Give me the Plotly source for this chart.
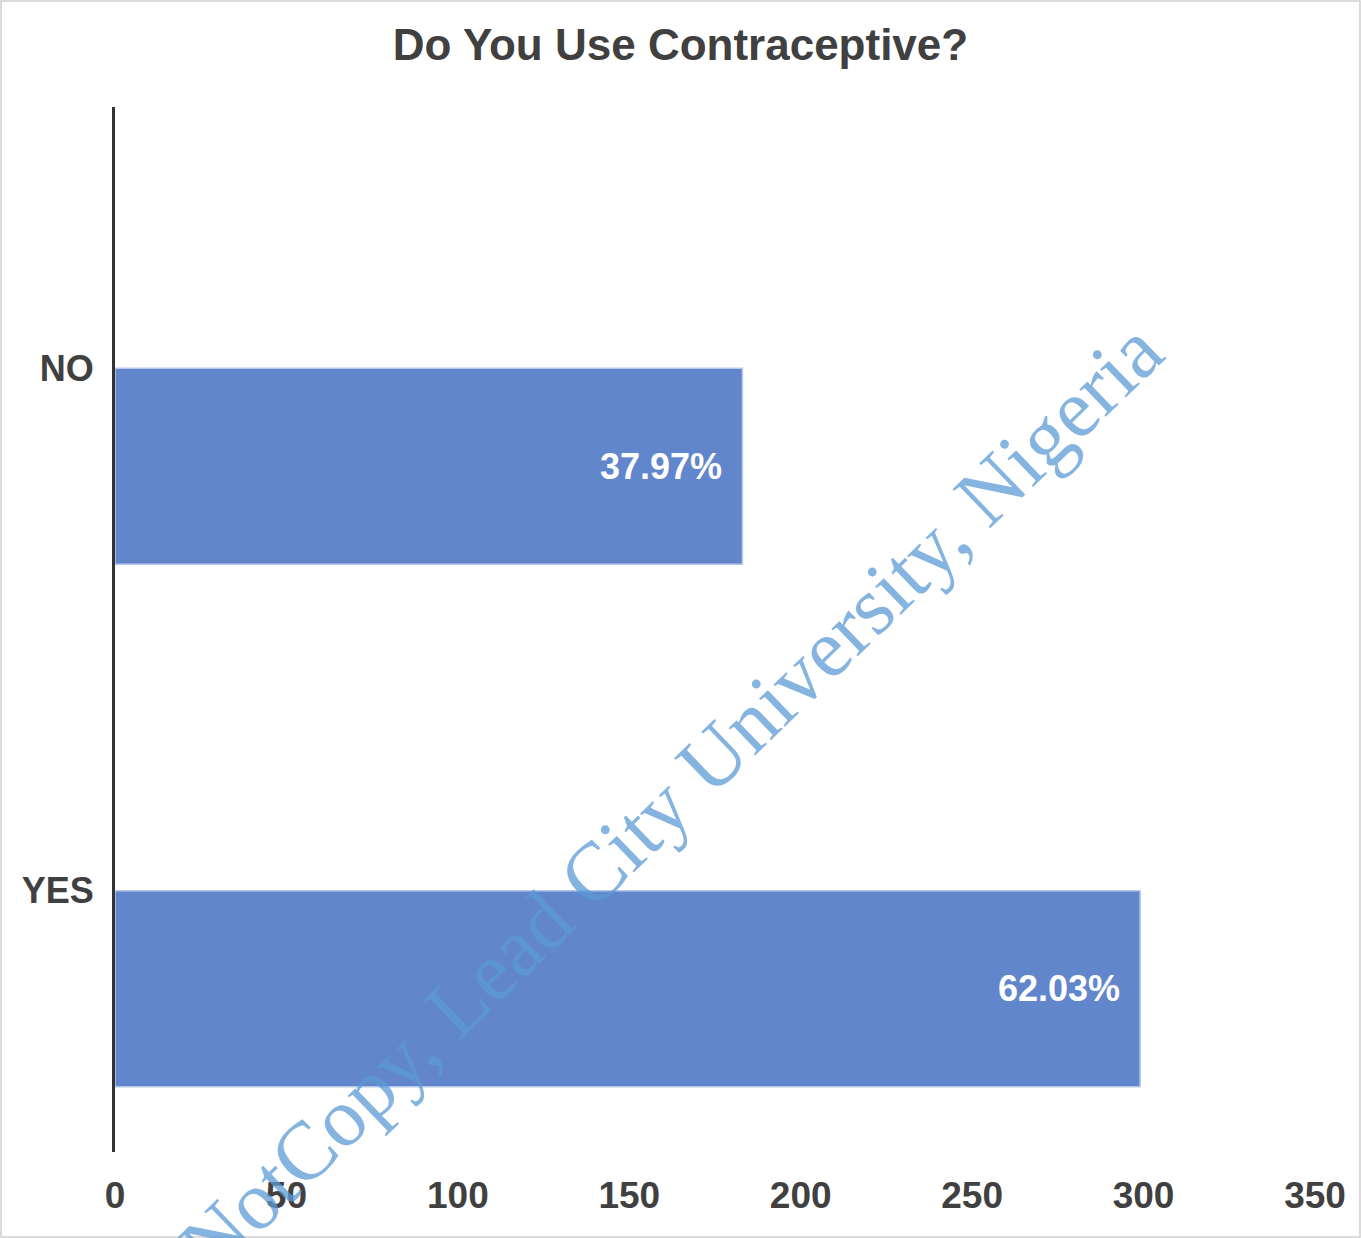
import plotly.graph_objects as go

# Data
categories = ["NO", "YES"]
counts = [183, 299]
percent_labels = ["37.97%", "62.03%"]
category_order = ["YES", "NO"]
x_ticks = [0, 50, 100, 150, 200, 250, 300, 350]

BAR_COLOR = "#6186cc"
TEXT_DARK = "#404040"
FONT = "Liberation Sans"

fig = go.Figure()
fig.add_trace(go.Bar(
    x=counts,
    y=categories,
    orientation="h",
    width=0.375,
    offset=-0.375,
    marker=dict(color=BAR_COLOR, line=dict(color="#b7c9ea", width=1.5)),
    hoverinfo="x+y",
    showlegend=False,
))

annotations = []
for cat, val, lab in zip(categories, counts, percent_labels):
    annotations.append(dict(
        x=val, y=cat, xref="x", yref="y",
        text=lab, showarrow=False,
        xanchor="right", yanchor="middle",
        xshift=-18, yshift=-98,
        font=dict(family=FONT, size=36, color="white", weight="bold"),
    ))

# Watermark
annotations.append(dict(
    x=0.463, y=0.339, xref="paper", yref="paper",
    text="NotCopy, Lead City University, Nigeria",
    showarrow=False, textangle=-44,
    xanchor="center", yanchor="middle",
    font=dict(family="Liberation Serif", size=83, color="#5b9bd5"),
    opacity=0.75,
))

fig.update_layout(
    width=1361, height=1238,
    margin=dict(l=115, r=46, t=107, b=86),
    paper_bgcolor="white",
    plot_bgcolor="white",
    title=dict(
        text="Do You Use Contraceptive?",
        x=0.5, xref="container", xanchor="center",
        y=1 - 45 / 1238, yanchor="middle",
        font=dict(family=FONT, size=44, color=TEXT_DARK, weight="bold"),
    ),
    xaxis=dict(
        range=[0, 350],
        tickvals=x_ticks,
        ticktext=[str(t) for t in x_ticks],
        showgrid=False, zeroline=False, showline=False,
        ticks="", ticklabelstandoff=18,
        tickfont=dict(family=FONT, size=37, color=TEXT_DARK, weight="bold"),
    ),
    yaxis=dict(
        type="category",
        categoryorder="array", categoryarray=category_order,
        range=[-0.5, 1.5],
        showgrid=False, zeroline=False,
        showline=True, linecolor="#333333", linewidth=3,
        ticks="", ticklabelstandoff=11,
        tickfont=dict(family=FONT, size=36, color=TEXT_DARK, weight="bold"),
    ),
    annotations=annotations,
    shapes=[dict(
        type="rect", xref="paper", yref="paper",
        x0=(1 - 115) / 1200, x1=(1360 - 115) / 1200,
        y0=(1152 - 1237) / 1045, y1=(1152 - 1) / 1045,
        line=dict(color="#d0d0d0", width=1.5),
        fillcolor="rgba(0,0,0,0)", layer="above",
    )],
)

fig.write_html("out.html")
